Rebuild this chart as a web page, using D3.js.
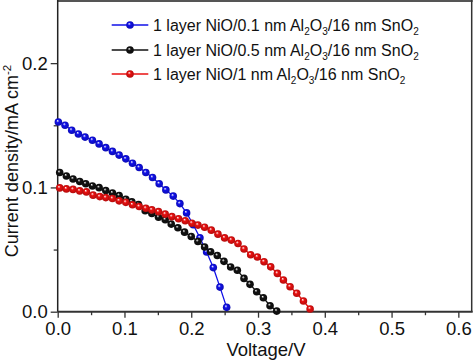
<!DOCTYPE html>
<html><head><meta charset="utf-8">
<script src="https://cdn.jsdelivr.net/npm/d3@7"></script>
<style>html,body{margin:0;padding:0;background:#fff;}svg{display:block;}</style>
</head><body>
<svg id="c" width="474" height="362"></svg>
<script>
const xTicks = [0.0, 0.1, 0.2, 0.3, 0.4, 0.5, 0.6];
const yTicks = [0.0, 0.1, 0.2];
const seriesNames = [
  ["1 layer NiO/0.1 nm Al", "2", "O", "3", "/16 nm SnO", "2"],
  ["1 layer NiO/0.5 nm Al", "2", "O", "3", "/16 nm SnO", "2"],
  ["1 layer NiO/1 nm Al", "2", "O", "3", "/16 nm SnO", "2"]
];
const seriesColors = ["#1010e8", "#111111", "#e81010"];

const vBlue = [0.001,0.011,0.021,0.031,0.041,0.052,0.062,0.072,0.082,0.092,0.102,0.112,0.122,0.132,0.142,0.152,0.162,0.173,0.183,0.193,0.203,0.213,0.223,0.233,0.243,0.253];
const jBlue = [0.1526,0.150,0.146,0.143,0.1405,0.138,0.135,0.132,0.129,0.126,0.123,0.1195,0.116,0.112,0.108,0.103,0.098,0.093,0.087,0.0795,0.070,0.0595,0.048,0.0355,0.0198,0.0035];

const vBlack = [0.003,0.013,0.023,0.033,0.042,0.052,0.062,0.072,0.082,0.092,0.102,0.111,0.121,0.131,0.141,0.151,0.161,0.170,0.180,0.190,0.200,0.210,0.220,0.229,0.239,0.249,0.259,0.269,0.279,0.288,0.298,0.308,0.318,0.328];
const jBlack = [0.112,0.1092,0.1068,0.1048,0.103,0.1012,0.0998,0.0975,0.0955,0.0935,0.0905,0.0885,0.0862,0.0812,0.079,0.076,0.074,0.0705,0.0675,0.064,0.0605,0.0565,0.052,0.0482,0.0452,0.0405,0.036,0.0333,0.0268,0.022,0.0161,0.0112,0.0048,0.0005];

const vRed = [0.003,0.013,0.023,0.033,0.043,0.053,0.063,0.072,0.082,0.092,0.102,0.112,0.122,0.132,0.141,0.151,0.161,0.171,0.181,0.191,0.201,0.210,0.220,0.230,0.240,0.250,0.260,0.270,0.279,0.289,0.299,0.309,0.319,0.329,0.338,0.348,0.358,0.368,0.378];
const jRed = [0.0996,0.0988,0.0984,0.0972,0.0964,0.0938,0.0926,0.0918,0.0911,0.0892,0.088,0.086,0.0846,0.0832,0.0819,0.0805,0.0785,0.0765,0.0748,0.0732,0.0712,0.0697,0.068,0.0656,0.0624,0.0594,0.0576,0.0549,0.0504,0.0458,0.044,0.0402,0.0361,0.0308,0.0255,0.0201,0.0148,0.0086,0.0022];

const series = [
  {v: vBlue, j: jBlue},
  {v: vBlack, j: jBlack},
  {v: vRed, j: jRed}
];

const svg = d3.select("#c");
const L = 57.7, R = 471.7, T = 1, B = 311.7;
const x = d3.scaleLinear().domain([0, 0.62]).range([L, R]);
const y = d3.scaleLinear().domain([0, 0.25]).range([B, T]);
const font = "'Liberation Sans', Arial, sans-serif";

const defs = svg.append("defs");
seriesColors.forEach((c, i) => {
  const g = defs.append("radialGradient").attr("id", "g" + i)
    .attr("cx", "50%").attr("cy", "50%").attr("r", "55%").attr("fx", "38%").attr("fy", "32%");
  g.append("stop").attr("offset", "0%").attr("stop-color", "#fff");
  g.append("stop").attr("offset", "35%").attr("stop-color", c);
  g.append("stop").attr("offset", "100%").attr("stop-color", d3.color(c).darker(0.8));
});

svg.append("line").attr("x1", L).attr("x2", R + 1).attr("y1", 0.8).attr("y2", 0.8).attr("stroke", "#555").attr("stroke-width", 2.5);
svg.append("line").attr("x1", R).attr("x2", R).attr("y1", 0).attr("y2", B).attr("stroke", "#333").attr("stroke-width", 1.5);

const xAxis = d3.axisBottom(x).tickValues(xTicks).tickFormat(d3.format(".1f")).tickSize(6).tickPadding(4);
const xMinor = d3.axisBottom(x).tickValues(xTicks.map(t => t + 0.05).filter(t => t < 0.62)).tickFormat("").tickSize(3.5);
const yAxis = d3.axisLeft(y).tickValues(yTicks).tickFormat(d3.format(".1f")).tickSize(7).tickPadding(3);
const yMinor = d3.axisLeft(y).tickValues([0.05, 0.15]).tickFormat("").tickSize(4);

function styleAxis(g) {
  g.select(".domain").remove();
  g.selectAll("line").attr("stroke", "#333").attr("stroke-width", 1.3);
  g.selectAll("text").attr("font-family", font).attr("font-size", 18.5).attr("fill", "#111");
}
svg.append("g").attr("transform", `translate(0,${B})`).call(xAxis).call(styleAxis);
svg.append("g").attr("transform", `translate(0,${B})`).call(xMinor).call(styleAxis);
svg.append("g").attr("transform", `translate(${L},0)`).call(yAxis).call(styleAxis);
svg.append("g").attr("transform", `translate(${L},0)`).call(yMinor).call(styleAxis);

svg.append("line").attr("x1", L).attr("x2", R + 1).attr("y1", B).attr("y2", B).attr("stroke", "#333").attr("stroke-width", 2);
svg.append("line").attr("x1", L).attr("x2", L).attr("y1", 0).attr("y2", B).attr("stroke", "#222").attr("stroke-width", 1.5);

const line = d3.line().x(d => x(d[0])).y(d => y(d[1]));
series.forEach((s, i) => {
  const pts = s.v.map((v, k) => [v, s.j[k]]);
  svg.append("path").datum(pts).attr("d", line).attr("fill", "none").attr("stroke", seriesColors[i]).attr("stroke-width", 1.3);
});
series.forEach((s, i) => {
  const pts = s.v.map((v, k) => [v, s.j[k]]);
  svg.append("g").selectAll("circle").data(pts).join("circle")
    .attr("cx", d => x(d[0])).attr("cy", d => y(d[1])).attr("r", 3.8)
    .attr("fill", `url(#g${i})`);
});

const legY = [25, 50, 74];
seriesNames.forEach((parts, i) => {
  const g = svg.append("g");
  g.append("line").attr("x1", 111.7).attr("x2", 148.3).attr("y1", legY[i]).attr("y2", legY[i]).attr("stroke", seriesColors[i]).attr("stroke-width", 1.5);
  g.append("circle").attr("cx", 130).attr("cy", legY[i]).attr("r", 3.8).attr("fill", `url(#g${i})`);
  const t = g.append("text").attr("x", 153).attr("y", legY[i] + 5.5).attr("font-family", font).attr("font-size", 16).attr("fill", "#111");
  parts.forEach((p, k) => {
    const sub = k % 2 === 1;
    t.append("tspan").attr("font-size", sub ? 10 : 16).attr("dy", sub ? 4 : (k > 0 ? -4 : 0)).text(p);
  });
});

svg.append("text").attr("x", 266).attr("y", 356).attr("text-anchor", "middle").attr("font-family", font).attr("font-size", 18.5).attr("fill", "#111").text("Voltage/V");
const yt = svg.append("text").attr("transform", "translate(18,161) rotate(-90)").attr("text-anchor", "middle").attr("font-family", font).attr("font-size", 18).attr("fill", "#111");
yt.append("tspan").text("Current density/mA cm");
yt.append("tspan").attr("font-size", 11.5).attr("dy", -7).text("-2");
</script>
</body></html>
